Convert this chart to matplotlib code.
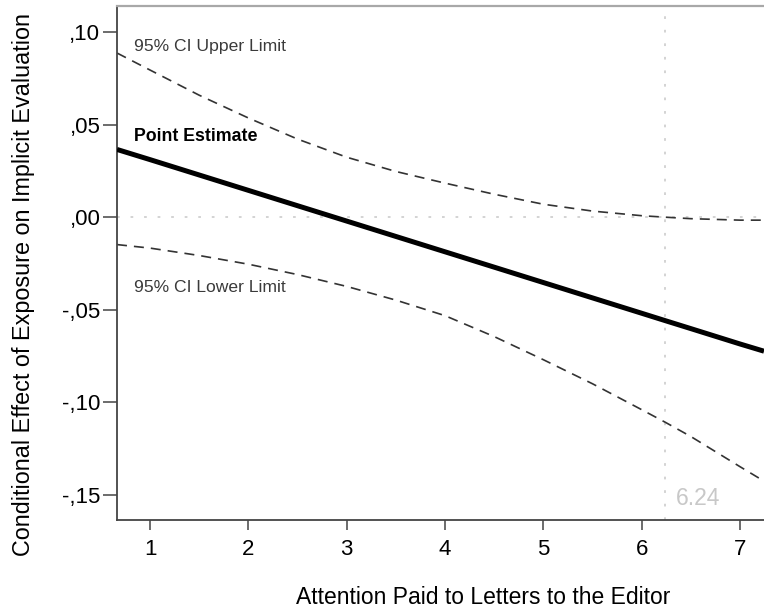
import matplotlib
matplotlib.use("Agg")
import matplotlib.pyplot as plt
from matplotlib.ticker import FuncFormatter

plt.rcParams["font.family"] = ["Liberation Sans", "DejaVu Sans"]

# moderator values (attention paid to letters to the editor)
attention = [0.664, 1.0, 1.5, 2.0, 2.5, 3.0, 3.5, 4.0, 4.5, 5.0, 5.5, 6.0, 6.24, 6.5, 7.0, 7.244]
# conditional effect
point_est = [0.0366, 0.0311, 0.0228, 0.0145, 0.0062, -0.0021, -0.0104, -0.0187, -0.0270,
             -0.0353, -0.0436, -0.0519, -0.0559, -0.0602, -0.0685, -0.0724]
ci_upper = [0.0887, 0.0795, 0.0659, 0.0536, 0.0422, 0.0324, 0.0247, 0.0184, 0.0124,
            0.0070, 0.0033, 0.0008, 0.0000, -0.0008, -0.0016, -0.0016]
ci_lower = [-0.0148, -0.0167, -0.0207, -0.0254, -0.0310, -0.0374, -0.0448, -0.0532, -0.0645,
            -0.0770, -0.0900, -0.1040, -0.1108, -0.1185, -0.1348, -0.1426]

jn_point = 6.24  # Johnson-Neyman point
y_ticks = [0.10, 0.05, 0.00, -0.05, -0.10, -0.15]
x_ticks = [1, 2, 3, 4, 5, 6, 7]

W, H = 764, 607
fig = plt.figure(figsize=(W / 100, H / 100), dpi=100)
ax = fig.add_axes([117 / W, 87 / H, (764 - 117) / W, (520 - 6) / H])

# reference lines
ref = dict(color="#d0d0d0", lw=1.3, ls=(0, (1.5, 6)), zorder=1)
ax.axhline(0, **ref)
ax.axvline(jn_point, **ref)

ax.plot(attention, ci_upper, color="#333333", lw=1.2, ls=(0, (6, 4.2)), zorder=2)
ax.plot(attention, ci_lower, color="#333333", lw=1.2, ls=(0, (6, 4.2)), zorder=2)
ax.plot(attention, point_est, color="black", lw=3.6, solid_capstyle="butt", zorder=3)

ax.set_xlim(0.664, 7.244)
ax.set_ylim(-0.1636, 0.1141)
ax.set_xticks(x_ticks)
ax.set_yticks(y_ticks)
ax.yaxis.set_major_formatter(FuncFormatter(lambda v, p: f"{v:.2f}".replace("0.", ",")))

ax.tick_params(axis="y", length=10, width=1.1, color="#444444", pad=2, labelsize=16)
ax.tick_params(axis="x", length=7, width=1.1, color="#444444", pad=7, labelsize=16)

for side in ("left", "bottom"):
    ax.spines[side].set_color("#444444")
    ax.spines[side].set_linewidth(1.3)
ax.spines["top"].set_color("#a8a8a8")
ax.spines["top"].set_linewidth(1.6)
ax.spines["right"].set_visible(False)

# line labels
ax.text(0.84, 0.0900, "95% CI Upper Limit", fontsize=12.6, color="#3a3a3a", va="baseline")
ax.text(0.84, 0.0410, "Point Estimate", fontsize=12.8, fontweight="bold", color="black", va="baseline")
ax.text(0.84, -0.0403, "95% CI Lower Limit", fontsize=12.6, color="#3a3a3a", va="baseline")
ax.text(6.35, -0.1555, f"{jn_point:.2f}", fontsize=16.5, color="#c8c8c8", va="baseline")

fig.text(483 / W, 1 - 597 / H, "Attention Paid to Letters to the Editor",
         fontsize=16.5, ha="center", va="center")
fig.text(24 / W, 1 - 285 / H, "Conditional Effect of Exposure on Implicit Evaluation",
         fontsize=16.8, rotation=90, ha="center", va="center")

fig.savefig("out.png", dpi=100)
